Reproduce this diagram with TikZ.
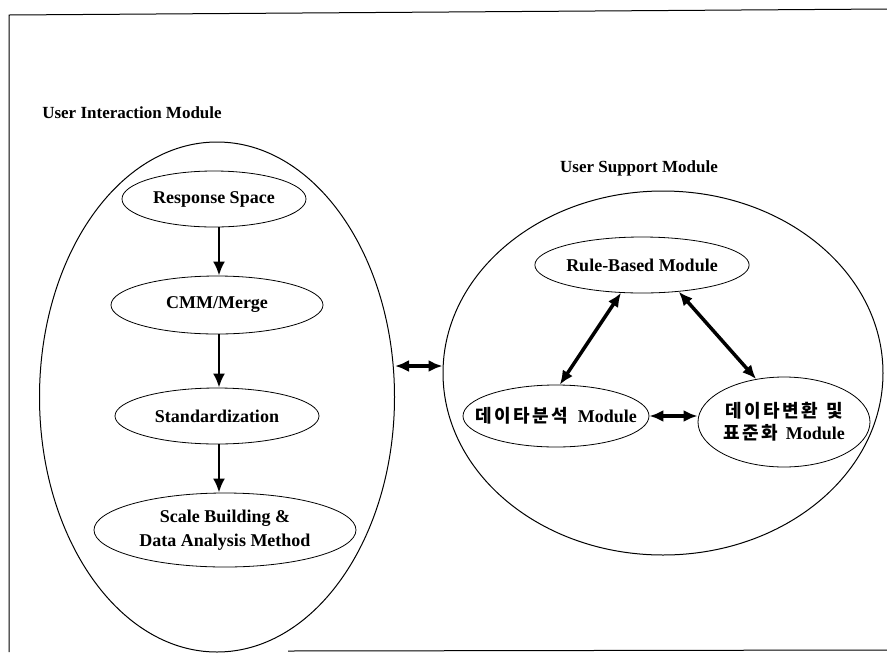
\documentclass[tikz,border=0pt]{standalone}
\usepackage{fontspec}
\setmainfont{Liberation Serif}
\newfontfamily\kor{Noto Sans CJK KR}[LetterSpace=14]
\usetikzlibrary{shapes.geometric,arrows.meta}

\begin{document}
\begin{tikzpicture}[>={Latex[length=14pt,width=12pt]}, x=1pt, y=-1pt,
    box/.style={draw, ellipse, inner sep=0pt, line width=0.8pt, align=center,
        font=\bfseries\fontsize{18}{24}\selectfont},
    ring/.style={draw, ellipse, line width=1pt},
    heading/.style={font=\bfseries\fontsize{17}{20}\selectfont},
    flow/.style={->, line width=2.5pt},
    link/.style={<->, line width=3.5pt}]
\useasboundingbox (0,0) rectangle (887,657);
\draw[line width=1pt] (9,652)--(9,15)--(887,9);
\draw[line width=1pt] (288,651)--(887,650);

% two modules
\node[ring, minimum width=355, minimum height=510] (uim) at (217,397) {};
\node[ring, minimum width=440, minimum height=364] (usm) at (663,373) {};
\node[heading] (uimtitle) at (132,113) {User Interaction Module};
\node[heading] (usmtitle) at (639,168) {User Support Module};

% left column
\coordinate (axis) at (219,0);
\node[box, minimum width=184, minimum height=56] (resp) at (214,199) {Response Space};
\node[box, minimum width=212, minimum height=58] (cmm) at (217,305) {CMM/Merge};
\node[box, minimum width=204, minimum height=56] (std) at (217,416) {Standardization};
\node[box, minimum width=262, minimum height=74] (scale) at (225,530) {Scale Building \&\\Data Analysis Method};

\draw[flow] (resp.south -| axis) -- (cmm.north -| axis);
\draw[flow] (cmm.south -| axis) -- (std.north -| axis);
\draw[flow] (std.south -| axis) -- (scale.north -| axis);

% right triangle
\node[box, minimum width=176, minimum height=56] (rule) at (642,265) {Rule-Based Module};
\node[box, minimum width=186, minimum height=62] (anal) at (556,416)
    {\makebox[0pt]{{\kor 데이타분석}\hspace{10pt}Module}};
\node[box, minimum width=172, minimum height=90] (conv) at (784,422)
    {\makebox[0pt]{{\kor 데이타변환\hspace{8pt}및}}\\[-2pt]\makebox[0pt]{{\kor 표준화}\hspace{8pt}Module}};

\draw[link] (rule.233) -- (anal.83);
\draw[link] (rule.324) -- (conv.123);
\draw[link] (anal.east) -- (anal.east -| conv.west);

% between the modules
\coordinate (bridge) at (0,366);
\draw[link] (bridge -| uim.east) -- (bridge -| usm.west);
\end{tikzpicture}
\end{document}
